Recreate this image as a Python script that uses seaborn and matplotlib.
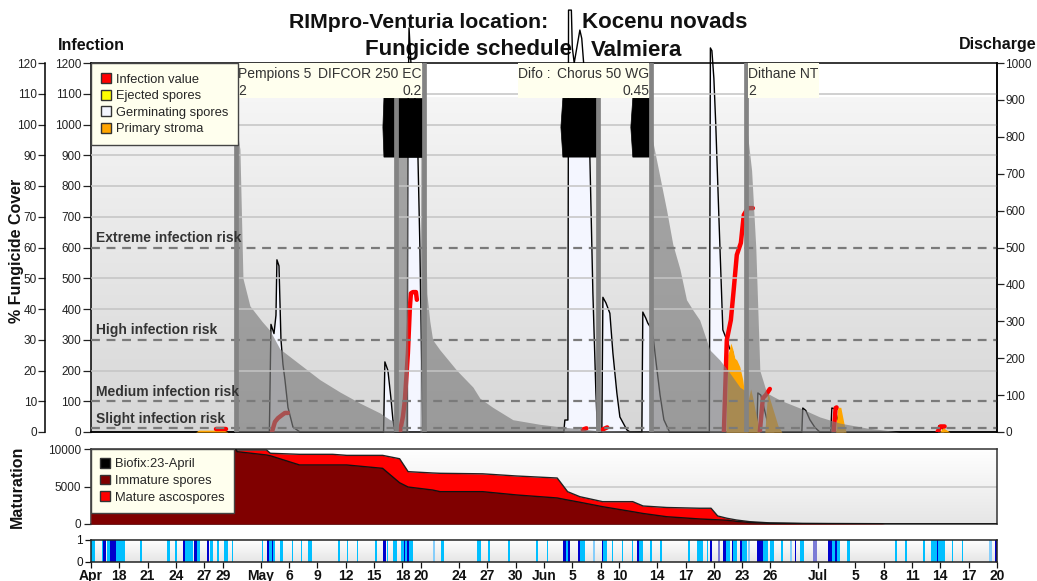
import numpy as np
import matplotlib
matplotlib.use("Agg")
import matplotlib.pyplot as plt
import matplotlib.transforms as mtransforms
from matplotlib.patches import Patch, Rectangle, Polygon
import seaborn as sns

sns.set_theme(style="white")
plt.rcParams['font.family'] = ['Liberation Sans', 'DejaVu Sans']

# ---------------- data (x in days since 15 April) ----------------
tick_days = [0, 3, 6, 9, 12, 14, 18, 21, 24, 27, 30, 33, 35, 39, 42, 45, 48, 51, 54, 56,
             60, 63, 66, 69, 72, 77, 81, 84, 87, 90, 93, 96]
tick_labels = ["Apr", "18", "21", "24", "27", "29", "May", "6", "9", "12", "15", "18", "20",
               "24", "27", "30", "Jun", "5", "8", "10", "14", "17", "20", "23", "26", "Jul",
               "5", "8", "11", "14", "17", "20"]

# germinating spores (infection scale)
germ_day = [0, 18.9, 19.07, 19.39, 19.6, 19.7, 19.92, 20.13, 20.34, 20.55, 20.87, 21.4, 22.14,
            31.0, 31.14, 31.46, 31.78, 31.99, 32.2,
            33.5, 33.58, 33.7, 33.9, 34.3, 34.64, 34.85, 34.96, 35.17,
            50.1, 50.21, 50.53, 50.6, 50.9, 51.0, 51.2, 51.8, 52.0, 52.2, 52.65, 52.86, 53.18, 53.5, 53.65, 53.8,
            54.13, 54.24, 54.56, 54.98, 55.3, 55.72, 56.04, 56.78, 57.1,
            58.37, 58.47, 58.79, 59.0, 59.3, 59.6, 59.9, 60.3, 60.7, 61.3,
            65.52, 65.63, 65.79, 66.0, 66.2, 66.53, 66.95, 67.37, 67.69, 68.0, 68.33, 68.54, 68.86, 69.07, 69.4, 69.7,
            70.55, 70.66, 70.97, 71.3, 71.7, 72.46,
            75.32, 75.42, 75.74, 76.17, 76.7, 77.22,
            78.39, 78.5, 78.8, 79.13, 79.56, 79.87,
            89.7, 89.83, 90.1, 90.45, 96]
germ_val = [0, 0, 350, 320, 380, 560, 540, 300, 220, 170, 80, 16, 0,
            0, 228, 200, 110, 40, 0,
            0, 1000, 1314, 1200, 1100, 900, 600, 370, 0,
            0, 39, 39, 1372, 1372, 1250, 1200, 1307, 1280, 1200, 1000, 894, 452, 127, 16, 0,
            0, 438, 420, 386, 257, 127, 49, 7, 0,
            0, 390, 370, 354, 340, 300, 220, 120, 40, 0,
            0, 1249, 1240, 1150, 1000, 700, 332, 299, 270, 260, 200, 120, 127, 100, 40, 0,
            0, 127, 120, 80, 30, 0,
            0, 78, 70, 40, 15, 0,
            0, 78, 75, 40, 10, 0,
            0, 20, 15, 0, 0]

# infection value segments (infection scale)
infection_days = [[13.2, 14.3],
                  [19.17, 19.49, 19.81, 20.23, 20.55, 20.87],
                  [32.73, 33.05, 33.26, 33.58, 33.79, 33.9, 34.11, 34.43, 34.53],
                  [52.1, 52.5], [54.2, 54.7],
                  [67.06, 67.37, 67.8, 68.1, 68.43, 68.86, 69.17, 69.6, 70.13],
                  [70.87, 71.19, 71.5, 71.93],
                  [78.7, 78.9, 79.0],
                  [89.7, 90.0, 90.45]]
infection_vals = [[10, 10],
                  [0, 33, 45, 55, 62, 62],
                  [0, 50, 104, 257, 407, 451, 455, 455, 430],
                  [8, 12], [8, 15],
                  [0, 299, 364, 462, 576, 615, 706, 728, 728],
                  [0, 110, 120, 140],
                  [0, 78, 80],
                  [0, 18, 18]]

# primary stroma segments (infection scale)
stroma_days = [[11.1, 11.4, 14.1, 14.5],
               [67.27, 67.48, 67.8, 68.0, 68.22, 68.43, 68.75, 69.07, 69.28, 69.6, 69.9, 70.13, 70.44, 70.87],
               [71.4, 71.7, 72.1, 72.8, 73.2],
               [78.9, 79.13, 79.45, 79.77, 80.0],
               [89.94, 90.24, 91.0]]
stroma_vals = [[0, 6, 6, 0],
               [0, 250, 289, 270, 240, 234, 212, 169, 114, 100, 140, 110, 60, 0],
               [0, 130, 90, 20, 0],
               [0, 81, 80, 30, 0],
               [0, 15, 0]]

# % fungicide cover
cover_day = [0, 15.2, 15.36, 15.78, 16.1, 16.84, 18.11, 18.96, 20.02, 22.14, 24.26, 26.38, 28.5,
             30.61, 31.67, 32.2, 32.31, 33.52, 33.58, 34.85, 34.96, 35.28, 35.59, 35.9, 36.2,
             36.97, 38.77, 40.47, 41.2, 42.58, 44.7, 47.56, 50.0, 53.6, 59.3, 59.43, 60.28,
             61.0, 61.65, 62.4, 63.1, 63.77, 64.5, 65.57, 66.63, 67.69, 68.75, 69.28, 69.45,
             70.0, 70.44, 70.87, 71.6, 72.99, 75.11, 77.22, 79.34, 82.2, 84.1, 85.7, 96]
cover_pct = [0, 0, 100, 92, 50, 41, 36, 33, 27, 22, 17, 13, 9.4,
             6.2, 4, 3.5, 100, 100, 0, 0, 100, 100, 45, 36, 30,
             26.7, 20, 14.6, 11, 8, 4, 2.5, 1.6, 0.5, 0.2, 96, 83,
             72, 61, 53, 43, 39.7, 36.4, 26.7, 23.4, 19.2, 14.6, 13.5, 100,
             85, 60, 20, 12.7, 10.4, 7.8, 4.9, 2.9, 1.3, 0.6, 0, 0]

# fungicide applications (day, line reaches label band?)
app_days = [15.36, 32.36, 35.28, 53.71, 59.38, 69.39]
app_full = [True, False, True, False, True, True]
spray_boxes = [  # (first day, last day, left side label lines, right side label lines)
    (15.36, 35.28, ["Pempions 5", "2"], ["DIFCOR 250 EC", "0.2"]),
    (45.0, 59.38, ["Difo :"], ["Chorus 50 WG", "0.45"]),
    (69.39, 77.4, ["Dithane NT", "2"], []),
]
# black cover blocks (day_left, day_right, pointed left edge depth)
block_spans = [(30.93, 32.31, 0.11), (32.52, 35.17, 0.0), (49.79, 53.6, 0.21), (57.2, 59.22, 0.21)]
block_top, block_mid, block_bottom = 1086, 991, 894

risk_levels = [600, 300, 100, 12]
risk_names = ["Extreme infection risk", "High infection risk", "Medium infection risk", "Slight infection risk"]

# maturation
mat_day = [0, 15.3, 15.5, 18.6, 19.0, 22.1, 25.6, 27.1, 30.9, 32.7, 33.6, 36.2, 37.0, 41.5, 45.1,
           49.4, 50.5, 51.8, 54.2, 57.4, 58.5, 61.0, 64.5, 65.7, 66.4, 67.4, 68.4, 69.8, 71.9,
           75.4, 83.8, 84.1, 96]
mat_total = [10000, 10000, 9870, 9870, 9430, 9290, 9290, 9150, 9150, 8700, 6980, 6800, 6760,
             6690, 6400, 6130, 4310, 3640, 2980, 2980, 2400, 2200, 2100, 2100, 1070, 760, 530,
             310, 150, 80, 40, 0, 0]
mat_immature = [10000, 10000, 9640, 9200, 9100, 7870, 7870, 7870, 7420, 5500, 4930, 4530, 4310,
                4310, 3870, 3470, 3200, 2900, 2310, 1640, 1400, 970, 670, 600, 560, 500, 350,
                200, 100, 50, 20, 0, 0]

# leaf wetness / rain strip events (start day, end day, kind)
strip_events = [
    (0.0, 0.4, "L"), (1.2, 1.3, "L"), (1.3, 1.6, "D"), (1.7, 2.0, "L"), (2.0, 2.65, "D"),
    (2.65, 3.6, "L"), (5.2, 5.4, "L"), (8.05, 8.37, "L"), (8.9, 9.1, "L"), (9.75, 9.96, "D"),
    (9.96, 10.8, "L"), (10.9, 11.2, "D"), (11.2, 11.55, "L"), (12.3, 12.5, "D"), (12.6, 12.9, "L"),
    (13.35, 13.56, "L"), (14.1, 14.5, "L"), (14.9, 15.0, "L"), (18.1, 18.2, "L"), (18.6, 18.85, "D"),
    (18.85, 19.5, "L"), (19.2, 19.3, "D"), (20.0, 20.3, "L"), (21.3, 21.4, "L"), (22.2, 22.35, "L"),
    (23.0, 23.4, "L"), (26.15, 26.4, "L"), (27.1, 27.2, "L"), (28.2, 28.3, "L"), (30.1, 30.3, "L"),
    (30.9, 31.25, "D"), (31.35, 31.45, "L"), (32.0, 32.4, "L"), (32.85, 33.5, "L"), (33.15, 33.25, "D"),
    (33.5, 33.7, "D"), (33.7, 34.1, "L"), (36.2, 36.45, "S"), (37.1, 37.4, "L"), (40.9, 41.3, "L"),
    (42.05, 42.3, "L"), (44.2, 44.4, "L"), (47.1, 47.35, "L"), (48.3, 48.4, "L"), (50.0, 50.3, "D"),
    (50.3, 50.5, "L"), (50.5, 50.75, "D"), (51.6, 51.8, "D"), (51.8, 52.3, "L"), (53.2, 53.4, "S"),
    (54.1, 54.25, "D"), (54.25, 54.65, "L"), (55.2, 55.3, "L"), (56.25, 56.35, "L"), (57.3, 57.4, "L"),
    (57.85, 58.05, "D"), (58.05, 58.5, "L"), (59.2, 59.4, "L"), (60.3, 60.5, "L"), (63.25, 63.45, "L"),
    (64.2, 64.8, "L"), (65.25, 65.35, "L"), (65.6, 65.8, "D"), (66.4, 66.6, "P"), (66.95, 67.3, "D"),
    (67.3, 67.7, "L"), (67.9, 68.0, "D"), (68.0, 68.4, "L"), (68.75, 68.95, "D"), (68.95, 69.5, "L"),
    (69.6, 69.8, "S"), (70.55, 71.2, "D"), (71.2, 71.7, "L"), (71.9, 72.35, "L"), (73.1, 73.3, "L"),
    (74.05, 74.25, "S"), (74.6, 74.7, "D"), (75.1, 75.5, "L"), (76.5, 76.9, "P"), (78.1, 78.5, "D"),
    (78.5, 78.8, "L"), (78.8, 79.0, "D"), (79.0, 79.35, "L"), (80.1, 80.4, "L"), (85.2, 85.4, "L"),
    (86.2, 86.45, "L"), (88.15, 88.35, "L"), (89.0, 89.6, "L"), (89.6, 89.8, "D"), (89.8, 90.45, "L"),
    (91.2, 91.3, "L"), (92.25, 92.35, "L"), (95.2, 95.45, "S"), (95.75, 96.0, "D"),
]
strip_colors = {"L": "#00bfff", "D": "#0000cd", "P": "#7b7bd6", "S": "#87cefa"}

# ---------------- figure ----------------
W, H = 1037, 581
fig = plt.figure(figsize=(W / 100, H / 100), dpi=100)
fig.patch.set_facecolor("white")

def rect(x0, y0, x1, y1):
    return [x0 / W, 1 - y1 / H, (x1 - x0) / W, (y1 - y0) / H]

XMIN, XMAX = 0, 96
ax = fig.add_axes(rect(91, 63, 997, 432))
ax_pct = ax.twinx()
ax_top = ax.twinx()
ax_dis = ax.twinx()

def gradient(a, top_band=None, c0=0.985, c1=0.84):
    n = 400
    vals = np.linspace(c0, c1, n)
    if top_band is not None:
        k = int(n * top_band)
        vals[:k] = 1.0
    img = np.dstack([vals, vals, vals]).reshape(n, 1, 3)
    a.imshow(img, extent=(0, 1, 0, 1), transform=a.transAxes, aspect="auto",
             zorder=0, interpolation="bilinear")

band = 35 / 369
gradient(ax, top_band=band, c0=0.975, c1=0.84)

# germinating spores
ax.fill_between(germ_day, 0, germ_val, color="#f4f6ff", lw=0, zorder=2)
sns.lineplot(x=np.array(germ_day), y=np.array(germ_val), ax=ax, color="black", linewidth=1,
             estimator=None, sort=False, zorder=3, clip_on=False)
# primary stroma
for d, v in zip(stroma_days, stroma_vals):
    ax.fill_between(d, 0, v, color="#ffa500", lw=0, zorder=4)
# infection value
for d, v in zip(infection_days, infection_vals):
    sns.lineplot(x=np.array(d), y=np.array(v), ax=ax, color="red", linewidth=3.2,
                 estimator=None, sort=False, zorder=5)

ax.set_xlim(XMIN, XMAX)
ax.set_ylim(0, 1200)
ax.set_yticks(range(0, 1201, 100))
ax.set_xticks([])
ax.tick_params(axis="y", direction="out", length=6, width=0.9, pad=1, labelsize=8.5,
               left=True, colors="#222222")
for s in ax.spines.values():
    s.set_color("black"); s.set_linewidth(1.1)

# fungicide cover (semi transparent on top)
ax_pct.fill_between(cover_day, 0, cover_pct, color="#7c7c7c", alpha=0.66, lw=0, zorder=2)
ax_pct.set_ylim(0, 120)
ax_pct.set_xlim(XMIN, XMAX)
ax_pct.yaxis.set_ticks_position("left")
ax_pct.yaxis.set_label_position("left")
ax_pct.spines["left"].set_position(("outward", 33))
for k in ["right", "top", "bottom"]:
    ax_pct.spines[k].set_visible(False)
ax_pct.spines["left"].set_color("black")
ax_pct.spines["left"].set_linewidth(1.1)
ax_pct.set_yticks(range(0, 121, 10))
ax_pct.tick_params(axis="y", direction="out", length=5, width=0.9, pad=1, labelsize=8.5,
                   left=True, right=False, colors="#222222")

# overlay: grid, risk lines, blocks, applications, labels
ax_top.set_ylim(0, 1200)
ax_top.set_xlim(XMIN, XMAX)
ax_top.set_yticks([])
for s in ax_top.spines.values():
    s.set_visible(False)
for g in range(100, 1200, 100):
    if g not in risk_levels:
        ax_top.axhline(g, color="#c4c4c4", lw=1.1, zorder=1)
for lvl, name in zip(risk_levels, risk_names):
    ax_top.axhline(lvl, color="#7a7a7a", lw=1.6, dashes=(4, 3), zorder=2)
    ax_top.text(0.5, lvl + 8, name, fontsize=10, fontweight="bold", color="#333333",
                va="bottom", ha="left", zorder=12)

blend = mtransforms.blended_transform_factory(ax_top.transData, ax_top.transAxes)
for d, full in zip(app_days, app_full):
    ax_top.axvline(d, ymax=1.0 if full else 1 - band, color="#838383", lw=3.4, zorder=7)

for d0, d1, left_lines, right_lines in spray_boxes:
    ax_top.add_patch(Rectangle((d0 + 0.22, 1 - band), d1 - d0 - 0.44, band, transform=blend,
                               facecolor="#ffffee", edgecolor="none", zorder=8))
    for i, t in enumerate(left_lines):
        ax_top.text(d0 + 0.2, 0.99 - i * 0.046, t, transform=blend, ha="left", va="top",
                    fontsize=10, color="#333333", zorder=9)
    for i, t in enumerate(right_lines):
        ax_top.text(d1 - 0.25, 0.99 - i * 0.046, t, transform=blend, ha="right", va="top",
                    fontsize=10, color="#333333", zorder=9)

for d0, d1, tip in block_spans:
    poly = [(d0 + tip, block_top), (d0, block_mid), (d0 + tip, block_bottom),
            (d1, block_bottom), (d1, block_top)]
    ax_top.add_patch(Polygon(poly, closed=True, facecolor="black", edgecolor="black",
                             lw=0.5, zorder=6))

# discharge axis
ax_dis.set_ylim(0, 1000)
ax_dis.set_xlim(XMIN, XMAX)
ax_dis.set_yticks(range(0, 1001, 100))
for k in ["left", "top", "bottom"]:
    ax_dis.spines[k].set_visible(False)
ax_dis.spines["right"].set_color("black")
ax_dis.spines["right"].set_linewidth(1.1)
ax_dis.tick_params(axis="y", direction="out", length=5, width=0.9, pad=1, labelsize=8.5,
                   right=True, colors="#222222")

leg_kw = dict(loc="upper left", bbox_to_anchor=(0, 1), borderaxespad=0, frameon=True,
              fancybox=False, facecolor="#ffffee", edgecolor="#444444", framealpha=1,
              fontsize=9.3, handlelength=0.8, handleheight=0.8, handletextpad=0.35,
              labelspacing=0.32)
leg_handles = [Patch(facecolor="red", edgecolor="#333333", label="Infection value"),
               Patch(facecolor="#ffff00", edgecolor="#333333", label="Ejected spores"),
               Patch(facecolor="#f4f6ff", edgecolor="#333333", label="Germinating spores"),
               Patch(facecolor="#ffa500", edgecolor="#333333", label="Primary stroma")]
leg = ax_dis.legend(handles=leg_handles, borderpad=0.78, **leg_kw)
leg.get_frame().set_linewidth(1.0)
leg.set_zorder(20)

# ---------------- maturation ----------------
axm = fig.add_axes(rect(91, 449, 997, 524))
gradient(axm, c0=1.0, c1=0.9)
axm.axhline(5000, color="#c8c8c8", lw=1.1, zorder=1)
axm.fill_between(mat_day, 0, mat_total, color="#ff0000", lw=0, zorder=2)
axm.fill_between(mat_day, 0, mat_immature, color="#800000", lw=0, zorder=3)
sns.lineplot(x=np.array(mat_day), y=np.array(mat_total), ax=axm, color="#222222", linewidth=1,
             estimator=None, sort=False, zorder=4)
sns.lineplot(x=np.array(mat_day), y=np.array(mat_immature), ax=axm, color="#111111",
             linewidth=1, estimator=None, sort=False, zorder=4)
axm.set_xlim(XMIN, XMAX)
axm.set_ylim(0, 10000)
axm.set_yticks([0, 5000, 10000])
axm.set_xticks([])
axm.tick_params(axis="y", direction="out", length=5, width=0.9, pad=2, labelsize=8.5,
                left=True, colors="#222222")
for s in axm.spines.values():
    s.set_color("#333333"); s.set_linewidth(1.1)
mh = [Patch(facecolor="black", edgecolor="#333333", label="Biofix:23-April"),
      Patch(facecolor="#800000", edgecolor="#333333", label="Immature spores"),
      Patch(facecolor="red", edgecolor="#333333", label="Mature ascospores")]
leg2 = axm.legend(handles=mh, borderpad=0.7, **leg_kw)
leg2.set_zorder(20)

# ---------------- strip ----------------
axs = fig.add_axes(rect(91, 540, 997, 562))
gradient(axs, c0=1.0, c1=0.9)
for pass_kinds in (("L", "S", "P"), ("D",)):
    for d0, d1, kind in strip_events:
        if kind in pass_kinds:
            axs.bar(d0, 1, width=d1 - d0, align="edge", color=strip_colors[kind], lw=0, zorder=2)
axs.set_xlim(XMIN, XMAX)
axs.set_ylim(0, 1)
axs.set_yticks([0, 1])
axs.set_xticks(tick_days)
axs.set_xticklabels(tick_labels, fontweight="bold", fontsize=10)
axs.tick_params(axis="both", direction="out", length=4, width=0.9, pad=1, labelsize=10,
                bottom=True, left=True, colors="#111111")
axs.tick_params(axis="y", labelsize=8.5, pad=2)
for s in axs.spines.values():
    s.set_color("#222222"); s.set_linewidth(1.1)

# ---------------- texts ----------------
tkw = dict(va="center", fontweight="bold", color="#111111", zorder=-1)
fig.text(548 / W, 1 - 22 / H, "RIMpro-Venturia location:", ha="right", fontsize=15.3, **tkw)
fig.text(582 / W, 1 - 22 / H, "Kocenu novads", ha="left", fontsize=16, **tkw)
fig.text(572 / W, 1 - 50 / H, "Fungicide schedule", ha="right", fontsize=16, **tkw)
fig.text(591 / W, 1 - 50 / H, "Valmiera", ha="left", fontsize=16, **tkw)
fig.text(58 / W, 1 - 45 / H, "Infection", ha="left", va="center", fontsize=11.5,
         fontweight="bold", color="#111111")
fig.text(1036 / W, 1 - 45 / H, "Discharge", ha="right", va="center", fontsize=11.5,
         fontweight="bold", color="#111111")
fig.text(17 / W, 1 - 251 / H, "% Fungicide Cover", rotation=90, ha="center", va="center",
         fontsize=11.5, fontweight="bold", color="#111111")
fig.text(17 / W, 1 - 487 / H, "Maturation", rotation=90, ha="center", va="center",
         fontsize=11.5, fontweight="bold", color="#111111")

fig.savefig("out.png", dpi=100, facecolor="white")
